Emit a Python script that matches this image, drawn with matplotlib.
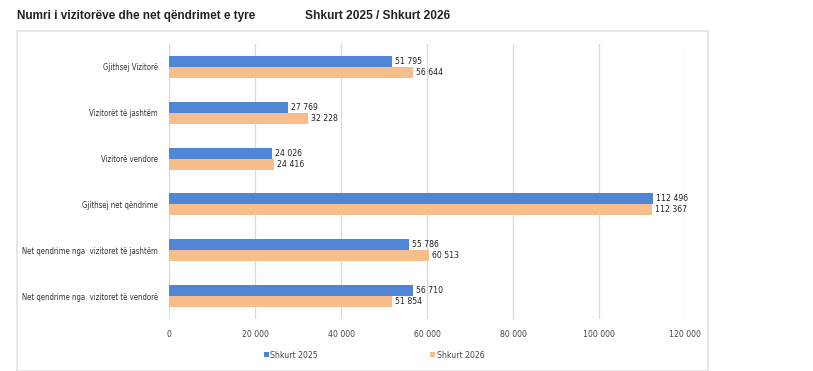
import matplotlib.pyplot as plt
from matplotlib.patches import Rectangle
from matplotlib import font_manager
import numpy as np

# Dati
kategorite = ['Gjithsej Vizitorë', 'Vizitorët të jashtëm', 'Vizitorë vendore',
              'Gjithsej net qëndrime', 'Net qendrime nga  vizitoret të jashtëm',
              'Net qendrime nga  vizitoret të vendorë']
shkurt_2025 = [51795, 27769, 24026, 112496, 55786, 56710]
shkurt_2026 = [56644, 32228, 24416, 112367, 60513, 51854]
x_ticks = [0, 20000, 40000, 60000, 80000, 100000, 120000]

NGJYRA_2025 = '#4F86D6'
NGJYRA_2026 = '#F7BE8C'

# font i ngushte nese ekziston
fp = font_manager.FontProperties(family='DejaVu Sans', stretch='condensed')
path = font_manager.findfont(fp)
if 'Condensed' in path:
    FONT = font_manager.FontProperties(fname=path, size=6.2)
    FONT_Y = font_manager.FontProperties(fname=path, size=5.6)
else:
    FONT = font_manager.FontProperties(family='Liberation Sans', size=6)
    FONT_Y = font_manager.FontProperties(family='Liberation Sans', size=5.5)

def format_num(v):
    return f"{v:,}".replace(',', ' ')

fig = plt.figure(figsize=(8.13, 3.71), dpi=100)

# kutia e grafikut
fig.patches.append(Rectangle((17/813, 0.0), (708-17)/813, 1-31/371, transform=fig.transFigure,
                             fill=False, edgecolor='#E3E3E3', linewidth=1.2))

ax = fig.add_axes([169/813, 1-319/371, (685-169)/813, (319-44)/371])

y = np.arange(len(kategorite))
h = 0.24
ax.barh(y - h/2, shkurt_2025, height=h, color=NGJYRA_2025, label='Shkurt 2025')
ax.barh(y + h/2, shkurt_2026, height=h, color=NGJYRA_2026, label='Shkurt 2026')

for yi, v in zip(y, shkurt_2025):
    ax.text(v + 700, yi - h/2, format_num(v), va='center', ha='left',
            fontproperties=FONT, color='#222222')
for yi, v in zip(y, shkurt_2026):
    ax.text(v + 700, yi + h/2, format_num(v), va='center', ha='left',
            fontproperties=FONT, color='#222222')

ax.set_ylim(len(kategorite) - 0.5, -0.5)
ax.set_yticks(y)
ax.set_yticklabels(kategorite, fontproperties=FONT_Y, color='#333333')
ax.set_xlim(0, 120000)
ax.set_xticks(x_ticks)
ax.set_xticklabels([format_num(t) for t in x_ticks], fontproperties=FONT, color='#444444')
ax.tick_params(axis='both', length=0)
ax.tick_params(axis='x', pad=8)
ax.tick_params(axis='y', pad=8)
ax.grid(axis='x', color='#D9D9D9', linewidth=0.9)
ax.set_axisbelow(True)
for s in ax.spines.values():
    s.set_visible(False)

leg = fig.legend(loc='center', bbox_to_anchor=(374/813, 1-355/371), ncol=2, frameon=False,
                 prop=FONT, handlelength=0.6, handleheight=0.6,
                 handletextpad=0.2, columnspacing=13)
for t in leg.get_texts():
    t.set_color('#444444')

fig.text(17/813, 1-16/371, 'Numri i vizitorëve dhe net qëndrimet e tyre', fontsize=8.5,
         fontweight='bold', family=['Liberation Sans', 'DejaVu Sans'], va='center', color='#222222')
fig.text(305/813, 1-16/371, 'Shkurt 2025 / Shkurt 2026', fontsize=8.6,
         fontweight='bold', family=['Liberation Sans', 'DejaVu Sans'], va='center', color='#222222')

fig.savefig('out.png', dpi=100)
